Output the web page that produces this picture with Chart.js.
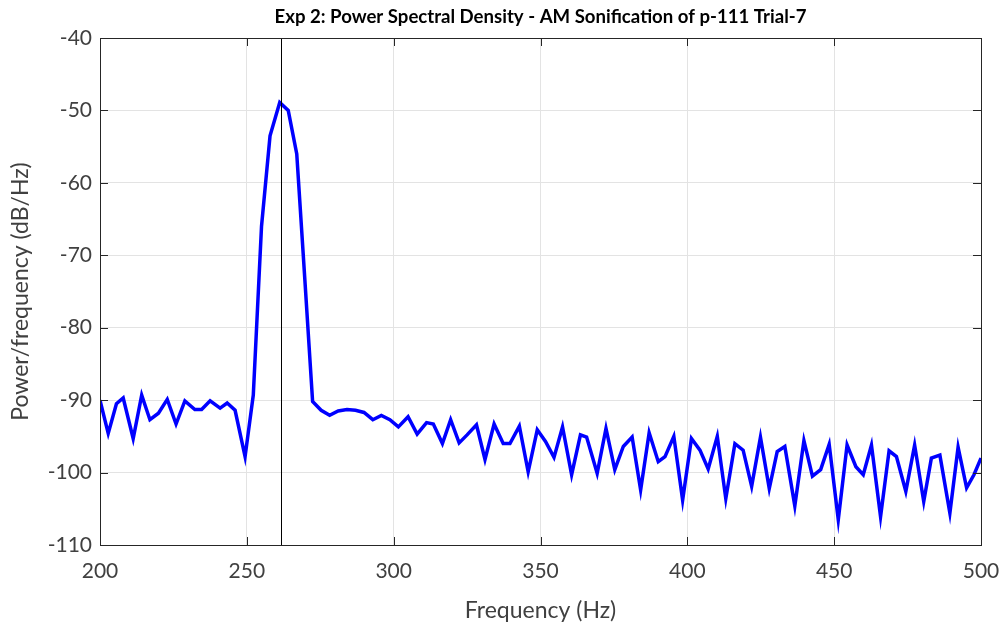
<!DOCTYPE html>
<html>
<head>
<meta charset="utf-8">
<script src="https://cdn.jsdelivr.net/npm/chart.js@4.4.1/dist/chart.umd.min.js"></script>
<style>
  html, body { margin: 0; padding: 0; background: #fff; }
  #wrap { width: 1004px; height: 624px; }
</style>
</head>
<body>
<div id="wrap"><canvas id="psdChart" width="1004" height="624"></canvas></div>
<script>
// values
const freqHz = [
  200.0, 202.8, 205.6, 207.9, 211.3, 214.2, 217.0, 219.9, 222.9, 225.9,
  228.9, 232.3, 234.6, 237.5, 240.9, 243.3, 246.0, 249.4, 252.2, 255.0,
  257.9, 261.2, 264.1, 267.0, 269.7, 272.4, 275.3, 278.2, 281.1, 284.1,
  287.0, 289.9, 292.9, 295.8, 298.7, 301.6, 304.9, 308.0, 311.2, 313.5,
  316.6, 319.4, 322.3, 325.0, 328.2, 331.1, 334.2, 337.3, 339.6, 342.8,
  345.8, 348.9, 351.7, 354.6, 357.5, 360.6, 363.6, 365.7, 369.3, 372.3,
  375.3, 378.2, 381.2, 384.1, 387.0, 390.1, 392.4, 395.4, 398.4, 401.4,
  404.3, 407.1, 410.2, 413.1, 416.2, 419.0, 421.9, 424.9, 427.9, 430.6,
  433.2, 436.6, 439.7, 442.6, 445.4, 448.3, 451.4, 454.4, 457.4, 459.9,
  462.7, 465.8, 468.7, 471.2, 474.4, 477.4, 480.5, 483.1, 486.0, 489.4,
  492.2, 495.1, 497.6, 500.0
];
const psdDb = [
  -90.0, -94.6, -90.5, -89.7, -95.3, -89.3, -92.7, -91.8, -89.9, -93.3,
  -90.1, -91.3, -91.3, -90.1, -91.1, -90.4, -91.4, -97.8, -89.3, -66.0,
  -53.5, -48.9, -50.0, -56.0, -73.0, -90.2, -91.4, -92.1, -91.5, -91.3,
  -91.4, -91.7, -92.7, -92.1, -92.7, -93.7, -92.3, -94.7, -93.1, -93.3,
  -96.0, -92.7, -95.9, -94.8, -93.4, -98.2, -93.3, -96.0, -96.0, -93.6,
  -99.9, -94.1, -95.7, -97.9, -93.7, -100.3, -94.8, -95.1, -100.1, -93.9,
  -99.6, -96.4, -95.1, -102.4, -94.5, -98.5, -97.8, -95.0, -103.8, -95.3,
  -96.9, -99.5, -95.0, -103.6, -96.0, -96.9, -101.9, -95.1, -102.2, -97.1,
  -96.4, -104.6, -95.6, -100.5, -99.6, -96.1, -106.5, -96.2, -99.2, -100.3,
  -96.2, -106.1, -97.0, -97.8, -102.6, -96.2, -104.0, -98.0, -97.6, -105.6,
  -96.5, -102.1, -100.3, -98.0
];
const markerHz = 261.6;
const xTicks = [200, 250, 300, 350, 400, 450, 500];
const yTicks = [-110, -100, -90, -80, -70, -60, -50, -40];
const titleText = 'Exp 2: Power Spectral Density - AM Sonification of p-111 Trial-7';

const axisColor = '#262626';
const fontFamily = 'Lato, "Open Sans", sans-serif';

// box round the plot, inward ticks, the marker line and a title centred over the plot
const boxPlugin = {
  id: 'boxPlugin',
  afterDatasetsDraw(chart) {
    const { ctx, chartArea: a, scales: { x, y } } = chart;
    ctx.save();
    ctx.strokeStyle = '#000';
    ctx.lineWidth = 1;
    const mx = Math.round(x.getPixelForValue(markerHz)) + 0.5;
    ctx.beginPath();
    ctx.moveTo(mx, a.top);
    ctx.lineTo(mx, a.bottom);
    ctx.stroke();

    ctx.strokeStyle = axisColor;
    ctx.beginPath();
    xTicks.forEach(v => {
      const px = Math.round(x.getPixelForValue(v)) + 0.5;
      ctx.moveTo(px, a.bottom); ctx.lineTo(px, a.bottom - 8);
      ctx.moveTo(px, a.top); ctx.lineTo(px, a.top + 8);
    });
    yTicks.forEach(v => {
      const py = Math.round(y.getPixelForValue(v)) + 0.5;
      ctx.moveTo(a.left, py); ctx.lineTo(a.left + 8, py);
      ctx.moveTo(a.right, py); ctx.lineTo(a.right - 8, py);
    });
    ctx.stroke();
    ctx.strokeRect(Math.round(a.left) + 0.5, Math.round(a.top) + 0.5,
      Math.round(a.right - a.left), Math.round(a.bottom - a.top));

    ctx.fillStyle = '#000';
    ctx.font = 'bold 18.6px ' + fontFamily;
    ctx.textAlign = 'center';
    ctx.textBaseline = 'middle';
    ctx.fillText(titleText, (a.left + a.right) / 2, 17);
    ctx.restore();
  }
};

new Chart(document.getElementById('psdChart'), {
  type: 'line',
  data: {
    datasets: [{
      data: freqHz.map((f, i) => ({ x: f, y: psdDb[i] })),
      borderColor: '#0000ff',
      borderWidth: 3.5,
      pointRadius: 0,
      tension: 0,
      fill: false
    }]
  },
  options: {
    responsive: false,
    animation: false,
    layout: { padding: { left: 0, right: 23, top: 38, bottom: 0 } },
    plugins: {
      legend: { display: false },
      tooltip: { enabled: false },
      title: { display: false }
    },
    scales: {
      x: {
        type: 'linear',
        min: 200,
        max: 500,
        afterBuildTicks: s => { s.ticks = xTicks.map(v => ({ value: v })); },
        afterFit: s => { s.height = 79; s.paddingLeft = 0; s.paddingRight = 0; },
        grid: { color: '#e3e3e3', drawTicks: false },
        border: { color: axisColor },
        ticks: {
          color: '#404040',
          padding: 14,
          font: { family: fontFamily, size: 21 }
        },
        title: {
          display: true,
          text: 'Frequency (Hz)',
          color: '#404040',
          font: { family: fontFamily, size: 23 },
          padding: { top: 0, bottom: 0 }
        }
      },
      y: {
        min: -110,
        max: -40,
        afterBuildTicks: s => { s.ticks = yTicks.map(v => ({ value: v })); },
        afterFit: s => { s.width = 100; s.paddingTop = 0; s.paddingBottom = 0; },
        grid: { color: '#e3e3e3', drawTicks: false },
        border: { color: axisColor },
        ticks: {
          color: '#404040',
          padding: 8,
          font: { family: fontFamily, size: 21 }
        },
        title: {
          display: true,
          text: 'Power/frequency (dB/Hz)',
          color: '#404040',
          font: { family: fontFamily, size: 23 },
          padding: { top: 7, bottom: 0 }
        }
      }
    }
  },
  plugins: [boxPlugin]
});
</script>
</body>
</html>
